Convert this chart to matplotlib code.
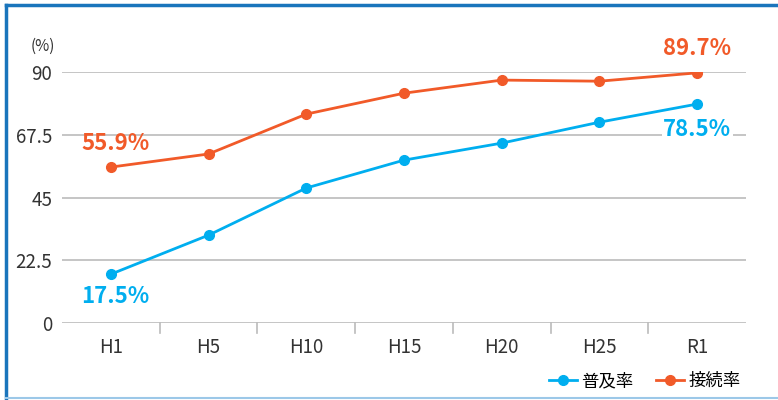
import matplotlib
matplotlib.use("Agg")
import matplotlib.pyplot as plt
from matplotlib.lines import Line2D

plt.rcParams['font.family'] = ['Noto Sans CJK JP', 'DejaVu Sans']

years = ["H1", "H5", "H10", "H15", "H20", "H25", "R1"]
fukyu = [17.5, 31.5, 48.4, 58.4, 64.5, 72.0, 78.5]
setsuzoku = [55.9, 60.6, 74.9, 82.4, 87.1, 86.7, 89.7]
yticks = [0, 22.5, 45, 67.5, 90]
yticklabels = ["0", "22.5", "45", "67.5", "90"]

blue = "#00aeef"
orange = "#f15a29"

fig = plt.figure(figsize=(7.78, 4.0), dpi=100)
ax = fig.add_axes([62 / 778, 1 - 323 / 400, 684 / 778, 251 / 400])

x = list(range(len(years)))
ax.plot(x, fukyu, color=blue, lw=2, marker="o", ms=7, zorder=3)
ax.plot(x, setsuzoku, color=orange, lw=2, marker="o", ms=7, zorder=3)

ax.set_xlim(-0.5, len(years) - 0.5)
ax.set_ylim(0, 90)
ax.set_yticks(yticks)
ax.set_yticklabels(yticklabels, fontsize=13.5, color="#333333")
ax.set_xticks(x)
ax.set_xticklabels(years, fontsize=13.5, color="#333333")
ax.tick_params(axis="y", length=0, pad=7)
ax.tick_params(axis="x", length=0, pad=10)
ax.yaxis.grid(True, color="#bbbbbb", lw=1.2)
ax.set_axisbelow(True)
for s in ax.spines.values():
    s.set_visible(False)

# category separators below the x axis
for b in range(1, len(years)):
    ax.plot([b - 0.5, b - 0.5], [0, -3.6], color="#bbbbbb", lw=1.2, clip_on=False)

ax.text(-0.7, 99.3, "(%)", fontsize=11, color="#333333", ha="center", va="center")

# value labels
lab = dict(fontsize=16, fontweight="bold", ha="center", va="center")
ax.text(0.05, 64.5, f"{setsuzoku[0]}%", color=orange, **lab)
ax.text(0.05, 9.5, f"{fukyu[0]}%", color=blue, **lab)
ax.text(6, 98.5, f"{setsuzoku[-1]}%", color=orange, **lab)
ax.text(6, 69.5, f"{fukyu[-1]}%", color=blue,
        bbox=dict(facecolor="white", edgecolor="none", pad=1), **lab)

handles = [Line2D([], [], color=blue, lw=2, marker="o", ms=7),
           Line2D([], [], color=orange, lw=2, marker="o", ms=7)]
fig.legend(handles, ["普及率", "接続率"], loc="center right",
           bbox_to_anchor=(756 / 778, 1 - 381 / 400), ncol=2, frameon=False,
           fontsize=12.5, handlelength=1.6, handletextpad=0.25, columnspacing=1.3)

# frame
fig.add_artist(Line2D([6 / 778, 6 / 778], [0, 1 - 5 / 400], color="#1a75bc", lw=2.5))
fig.add_artist(Line2D([6 / 778, 1], [1 - 5 / 400, 1 - 5 / 400], color="#1a75bc", lw=2.5))
fig.add_artist(Line2D([6 / 778, 1], [2 / 400, 2 / 400], color="#9cc8e8", lw=1.5))

fig.savefig("out.png", dpi=100)
